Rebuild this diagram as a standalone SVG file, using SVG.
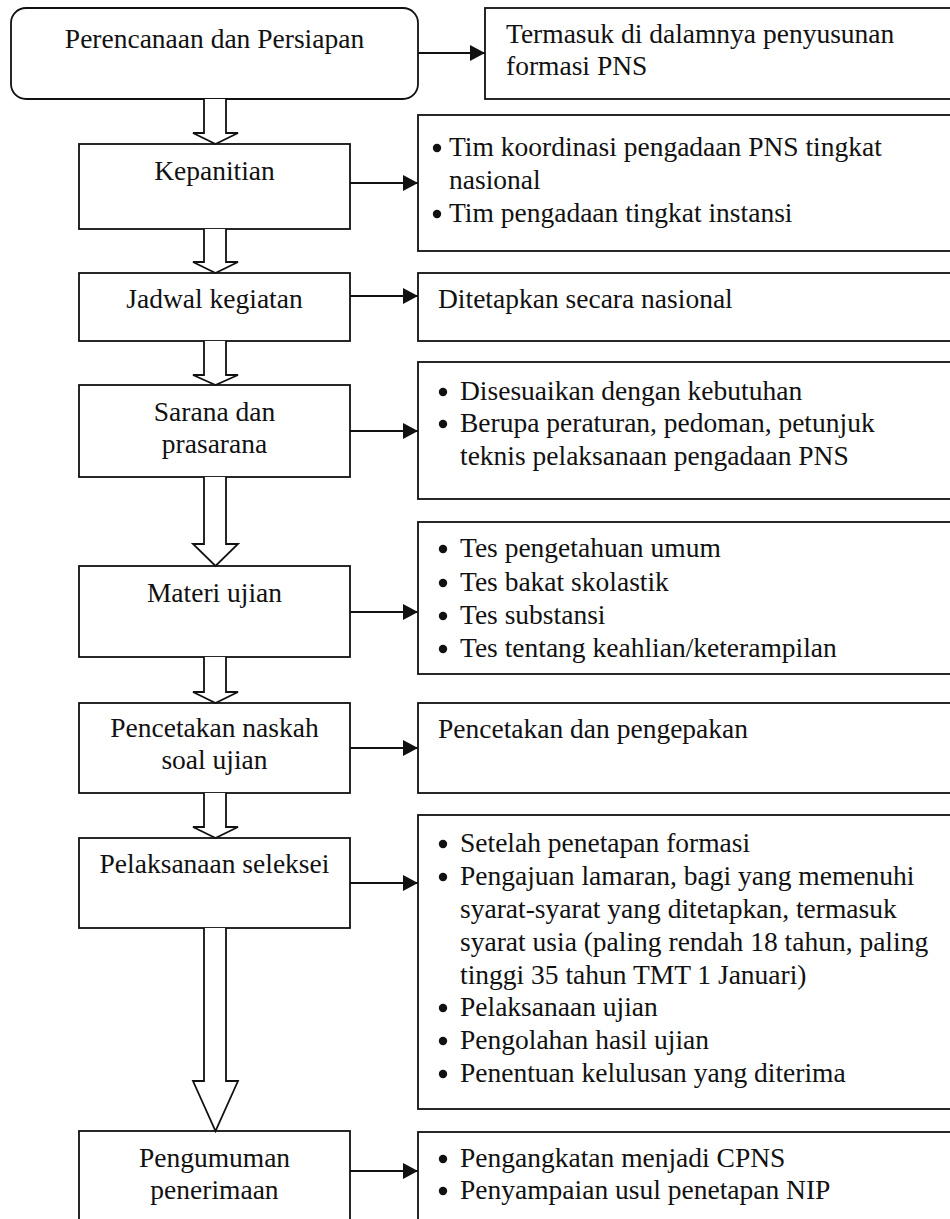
<svg xmlns="http://www.w3.org/2000/svg" width="950" height="1219" viewBox="0 0 950 1219">
<style>
.box{fill:#fff;stroke:#111;stroke-width:1.8}
.t{font-family:"Liberation Serif","Times New Roman",serif;font-size:27.5px;fill:#111}
.c{text-anchor:middle}
.b{fill:#111}
.con{stroke:#111;stroke-width:1.8;fill:none}
.hollow{fill:#fff;stroke:#111;stroke-width:1.8;stroke-linejoin:miter}
</style>
<defs>
<marker id="ah" markerUnits="userSpaceOnUse" markerWidth="16" markerHeight="16" refX="15" refY="8" orient="auto">
<path d="M0,0 L15,8 L0,16 Z" fill="#111"/>
</marker>
</defs>
<rect width="950" height="1219" fill="#fff"/>

<g id="n1"><rect class="box" x="11" y="8" width="407" height="91" rx="15"/><text class="t c" x="214.5" y="48">Perencanaan dan Persiapan</text></g>
<g id="r1"><rect class="box" x="485" y="8" width="480" height="91"/><text class="t" x="506" y="43">Termasuk di dalamnya penyusunan</text><text class="t" x="506" y="75">formasi PNS</text></g>

<g id="n2"><rect class="box" x="79" y="144" width="271" height="85"/><text class="t c" x="214.5" y="180">Kepanitian</text></g>
<g id="r2"><rect class="box" x="418" y="115" width="550" height="136"/>
<circle class="b" cx="437" cy="148" r="4.2"/><text class="t" x="449" y="156">Tim koordinasi pengadaan PNS tingkat</text>
<text class="t" x="449" y="189">nasional</text>
<circle class="b" cx="437" cy="214" r="4.2"/><text class="t" x="449" y="222">Tim pengadaan tingkat instansi</text></g>

<g id="n3"><rect class="box" x="79" y="273" width="271" height="68"/><text class="t c" x="214.5" y="308">Jadwal kegiatan</text></g>
<g id="r3"><rect class="box" x="418" y="273" width="550" height="68"/><text class="t" x="438" y="308">Ditetapkan secara nasional</text></g>

<g id="n4"><rect class="box" x="79" y="385" width="271" height="92"/><text class="t c" x="214.5" y="421">Sarana dan</text><text class="t c" x="214.5" y="453">prasarana</text></g>
<g id="r4"><rect class="box" x="418" y="362" width="550" height="137"/>
<circle class="b" cx="443" cy="392" r="4.2"/><text class="t" x="460" y="400">Disesuaikan dengan kebutuhan</text>
<circle class="b" cx="443" cy="424" r="4.2"/><text class="t" x="460" y="432">Berupa peraturan, pedoman, petunjuk</text>
<text class="t" x="460" y="465">teknis pelaksanaan pengadaan PNS</text></g>

<g id="n5"><rect class="box" x="79" y="566" width="271" height="91"/><text class="t c" x="214.5" y="602">Materi ujian</text></g>
<g id="r5"><rect class="box" x="418" y="522" width="550" height="152"/>
<circle class="b" cx="443" cy="549" r="4.2"/><text class="t" x="460" y="557">Tes pengetahuan umum</text>
<circle class="b" cx="443" cy="583" r="4.2"/><text class="t" x="460" y="591">Tes bakat skolastik</text>
<circle class="b" cx="443" cy="616" r="4.2"/><text class="t" x="460" y="624">Tes substansi</text>
<circle class="b" cx="443" cy="649" r="4.2"/><text class="t" x="460" y="657">Tes tentang keahlian/keterampilan</text></g>

<g id="n6"><rect class="box" x="79" y="703" width="271" height="90"/><text class="t c" x="214.5" y="737">Pencetakan naskah</text><text class="t c" x="214.5" y="769">soal ujian</text></g>
<g id="r6"><rect class="box" x="418" y="703" width="550" height="90"/><text class="t" x="438" y="738">Pencetakan dan pengepakan</text></g>

<g id="n7"><rect class="box" x="79" y="838" width="271" height="90"/><text class="t c" x="214.5" y="873">Pelaksanaan seleksei</text></g>
<g id="r7"><rect class="box" x="418" y="815" width="550" height="294"/>
<circle class="b" cx="443" cy="844" r="4.2"/><text class="t" x="460" y="852">Setelah penetapan formasi</text>
<circle class="b" cx="443" cy="877" r="4.2"/><text class="t" x="460" y="885">Pengajuan lamaran, bagi yang memenuhi</text>
<text class="t" x="460" y="918">syarat-syarat yang ditetapkan, termasuk</text>
<text class="t" x="460" y="951">syarat usia (paling rendah 18 tahun, paling</text>
<text class="t" x="460" y="984">tinggi 35 tahun TMT 1 Januari)</text>
<circle class="b" cx="443" cy="1008" r="4.2"/><text class="t" x="460" y="1016">Pelaksanaan ujian</text>
<circle class="b" cx="443" cy="1041" r="4.2"/><text class="t" x="460" y="1049">Pengolahan hasil ujian</text>
<circle class="b" cx="443" cy="1074" r="4.2"/><text class="t" x="460" y="1082">Penentuan kelulusan yang diterima</text></g>

<g id="n8"><rect class="box" x="79" y="1131" width="271" height="100"/><text class="t c" x="214.5" y="1167">Pengumuman</text><text class="t c" x="214.5" y="1199">penerimaan</text></g>
<g id="r8"><rect class="box" x="418" y="1132" width="550" height="100"/>
<circle class="b" cx="443" cy="1159" r="4.2"/><text class="t" x="460" y="1167">Pengangkatan menjadi CPNS</text>
<circle class="b" cx="443" cy="1191" r="4.2"/><text class="t" x="460" y="1199">Penyampaian usul penetapan NIP</text></g>

<g id="connectors">
<line class="con" x1="418" y1="53" x2="485" y2="53" marker-end="url(#ah)"/>
<line class="con" x1="350" y1="183" x2="418" y2="183" marker-end="url(#ah)"/>
<line class="con" x1="350" y1="296" x2="418" y2="296" marker-end="url(#ah)"/>
<line class="con" x1="350" y1="431" x2="418" y2="431" marker-end="url(#ah)"/>
<line class="con" x1="350" y1="612" x2="418" y2="612" marker-end="url(#ah)"/>
<line class="con" x1="350" y1="748" x2="418" y2="748" marker-end="url(#ah)"/>
<line class="con" x1="350" y1="883" x2="418" y2="883" marker-end="url(#ah)"/>
<line class="con" x1="350" y1="1171" x2="418" y2="1171" marker-end="url(#ah)"/>
<path class="hollow" d="M204,99 V133 H193 L215.5,144 L238,133 H226 V99"/>
<path class="hollow" d="M204,229 V262 H193 L215.5,273 L238,262 H226 V229"/>
<path class="hollow" d="M204,341 V375 H193 L215.5,385 L238,375 H226 V341"/>
<path class="hollow" d="M204,477 V544 H193 L215.5,566 L238,544 H226 V477"/>
<path class="hollow" d="M204,657 V692 H193 L215.5,703 L238,692 H226 V657"/>
<path class="hollow" d="M204,793 V827 H193 L215.5,838 L238,827 H226 V793"/>
<path class="hollow" d="M204,928 V1081 H193 L215.5,1131 L238,1081 H226 V928"/>
</g>
</svg>
